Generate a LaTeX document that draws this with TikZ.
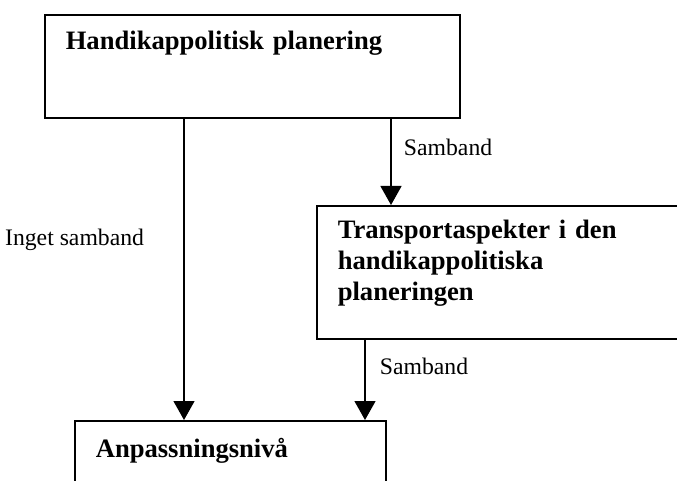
\documentclass[tikz,border=0pt]{standalone}
\usepackage{fontspec}
\setmainfont{Liberation Serif}
\usetikzlibrary{arrows.meta, calc}

\begin{document}
\begin{tikzpicture}[x=1pt, y=-1pt,
    box/.style={draw, line width=1.6pt, inner ysep=0pt, inner xsep=21pt, align=left,
      anchor=north west, font=\fontsize{26.6}{31}\selectfont\bfseries},
    link/.style={line width=1.3pt, -{Triangle[width=21pt, length=19pt]}},
    lbl/.style={font=\fontsize{23.7}{28}\selectfont}]
    \useasboundingbox (0,0) rectangle (677,481);
    \clip (0,0) rectangle (677,481);

    \node[box, text width=373pt, text height=35pt, text depth=68pt] (plan) at (44,14) {Handikappolitisk planering};
    \node[box, text width=344pt, text height=33pt, text depth=100pt] (transp) at (316,205)
        {Transportaspekter i den\\ handikappolitiska\\ planeringen};
    \node[box, text width=269pt, text height=37pt, text depth=63pt] (adapt) at (74,420) {Anpassningsnivå};

    \draw[link] (plan.south -| 184,0) -- node[lbl, pos=0.42, anchor=base east, xshift=-36pt] (inget) {Inget samband} (adapt.north -| 184,0);
    \draw[link] (plan.south -| 391,0) -- node[lbl, pos=0.43, anchor=base west, xshift=9pt] (samb1) {Samband} (transp.north -| 391,0);
    \draw[link] (transp.south -| 365,0) -- node[lbl, pos=0.43, anchor=base west, xshift=11pt] (samb2) {Samband} (adapt.north -| 365,0);
\end{tikzpicture}
\end{document}
